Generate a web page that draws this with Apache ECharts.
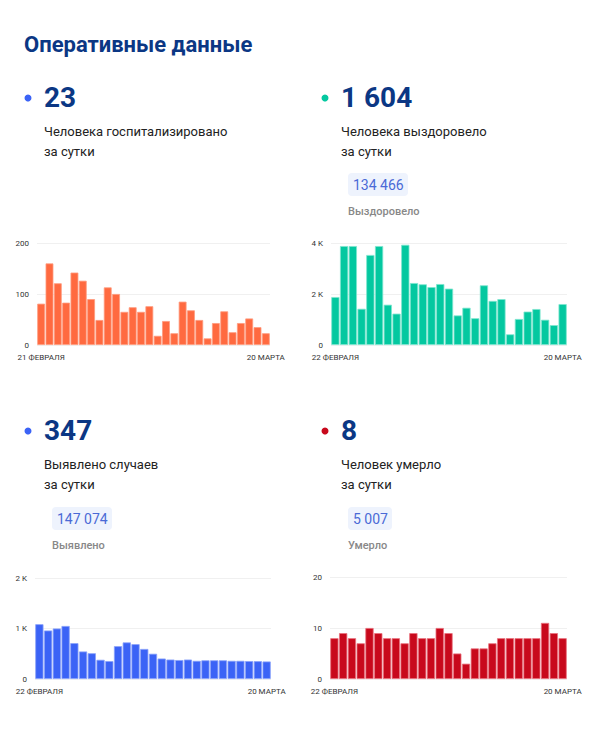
<!DOCTYPE html>
<html>
<head>
<meta charset="utf-8">
<script src="https://cdn.jsdelivr.net/npm/echarts@6/dist/echarts.min.js"></script>
<style>
  html, body { margin: 0; padding: 0; background: #fff; }
  #main { width: 605px; height: 733px; }
</style>
</head>
<body>
<div id="main"></div>
<script>
// даты: 22 февраля - 20 марта
var dates = ['22 ФЕВРАЛЯ', '23 ФЕВРАЛЯ', '24 ФЕВРАЛЯ', '25 ФЕВРАЛЯ', '26 ФЕВРАЛЯ', '27 ФЕВРАЛЯ', '28 ФЕВРАЛЯ',
    '1 МАРТА', '2 МАРТА', '3 МАРТА', '4 МАРТА', '5 МАРТА', '6 МАРТА', '7 МАРТА', '8 МАРТА', '9 МАРТА', '10 МАРТА',
    '11 МАРТА', '12 МАРТА', '13 МАРТА', '14 МАРТА', '15 МАРТА', '16 МАРТА', '17 МАРТА', '18 МАРТА', '19 МАРТА', '20 МАРТА'];
var hospDates = ['21 ФЕВРАЛЯ'].concat(dates);

var hospitalized = [81, 160, 121, 83, 142, 126, 90, 49, 113, 100, 65, 74, 65, 76, 18, 47, 23, 85, 68, 49, 13, 43, 66, 25, 43, 52, 35, 23];
var recovered = [1880, 3880, 3880, 1420, 3530, 3880, 1580, 1230, 3930, 2430, 2380, 2270, 2390, 2210, 1160, 1460, 1050,
    2340, 1730, 1800, 420, 1020, 1310, 1410, 990, 780, 1604];
var detected = [1085, 960, 1000, 1050, 710, 545, 510, 380, 355, 650, 725, 690, 595, 500, 405, 385, 375, 385, 360, 370,
    370, 370, 360, 360, 355, 352, 347];
var died = [8, 9, 8, 7, 10, 9, 8, 8, 7, 9, 8, 8, 10, 9, 5, 3, 6, 6, 7, 8, 8, 8, 8, 8, 11, 9, 8];

var darkBlue = '#0b3784';

function kFormat(v) {
    return v >= 1000 ? (v / 1000) + ' K' : v;
}

// параметры четырех графиков
var blocks = [
    {grid: {left: 37, top: 243, width: 233, height: 102}, cats: hospDates, data: hospitalized, max: 200, interval: 100, color: '#ff6a40', border: '#ff9a7e'},
    {grid: {left: 331, top: 243, width: 236, height: 102}, cats: dates, data: recovered, max: 4000, interval: 2000, color: '#04c8a0', border: '#7fe6cf'},
    {grid: {left: 35, top: 578, width: 236, height: 101}, cats: dates, data: detected, max: 2000, interval: 1000, color: '#3b63f6', border: '#8aa2fa'},
    {grid: {left: 330, top: 577, width: 237, height: 102}, cats: dates, data: died, max: 20, interval: 10, color: '#c8091c', border: '#e8707c'}
];

var grids = [], xAxes = [], yAxes = [], series = [];
blocks.forEach(function (b, i) {
    grids.push(b.grid);
    xAxes.push({
        type: 'category',
        gridIndex: i,
        data: b.cats,
        axisLine: {show: false},
        axisTick: {show: false},
        axisLabel: {
            color: '#333',
            fontSize: 8,
            margin: 8,
            fontFamily: 'Roboto',
            interval: function (idx) { return idx === 0 || idx === b.cats.length - 1; }
        }
    });
    yAxes.push({
        type: 'value',
        gridIndex: i,
        min: 0,
        max: b.max,
        interval: b.interval,
        axisLabel: {color: '#333', fontSize: 8, margin: 8, fontFamily: 'Roboto', formatter: kFormat},
        splitLine: {lineStyle: {color: '#f0f0f0'}}
    });
    series.push({
        type: 'bar',
        xAxisIndex: i,
        yAxisIndex: i,
        data: b.data,
        barCategoryGap: '6%',
        itemStyle: {color: b.color, borderColor: b.border, borderWidth: 0.8},
        silent: true
    });
});

// текстовые блоки
function header(x, y, dotColor, value, line1, line2) {
    return [
        {type: 'circle', shape: {cx: x - 16, cy: y + 1, r: 3.5}, style: {fill: dotColor}},
        {type: 'text', x: x, y: y, style: {text: value, fill: darkBlue, font: 'bold 28px Roboto', textVerticalAlign: 'middle'}},
        {type: 'text', x: x, y: y + 34, style: {text: line1, fill: '#222', font: '13px Roboto', textVerticalAlign: 'middle'}},
        {type: 'text', x: x, y: y + 54, style: {text: line2, fill: '#222', font: '13px Roboto', textVerticalAlign: 'middle'}}
    ];
}
function badge(x, y, w, value, caption) {
    return [
        {type: 'rect', shape: {x: x, y: y, width: w, height: 23, r: 4}, style: {fill: '#eef3fd'}},
        {type: 'text', x: x + 5, y: y + 12, style: {text: value, fill: '#4a6ad6', font: '14px Roboto', textVerticalAlign: 'middle'}},
        {type: 'text', x: x, y: y + 38, style: {text: caption, fill: '#888', font: '500 11px Roboto', textVerticalAlign: 'middle'}}
    ];
}

var graphics = [
    {type: 'text', x: 24, y: 44, style: {text: 'Оперативные данные', fill: darkBlue, font: 'bold 22px Roboto', textVerticalAlign: 'middle'}}
]
    .concat(header(44, 97, '#3b63f6', '23', 'Человека госпитализировано', 'за сутки'))
    .concat(header(341, 97, '#04c8a0', '1 604', 'Человека выздоровело', 'за сутки'))
    .concat(badge(348, 173, 60, '134 466', 'Выздоровело'))
    .concat(header(44, 430, '#3b63f6', '347', 'Выявлено случаев', 'за сутки'))
    .concat(badge(52, 507, 60, '147 074', 'Выявлено'))
    .concat(header(341, 430, '#c8091c', '8', 'Человек умерло', 'за сутки'))
    .concat(badge(348, 507, 44, '5 007', 'Умерло'));

var chart = echarts.init(document.getElementById('main'), null, {renderer: 'svg'});
chart.setOption({
    animation: false,
    backgroundColor: '#fff',
    textStyle: {fontFamily: 'Roboto'},
    grid: grids,
    xAxis: xAxes,
    yAxis: yAxes,
    series: series,
    graphic: graphics
});
</script>
</body>
</html>
